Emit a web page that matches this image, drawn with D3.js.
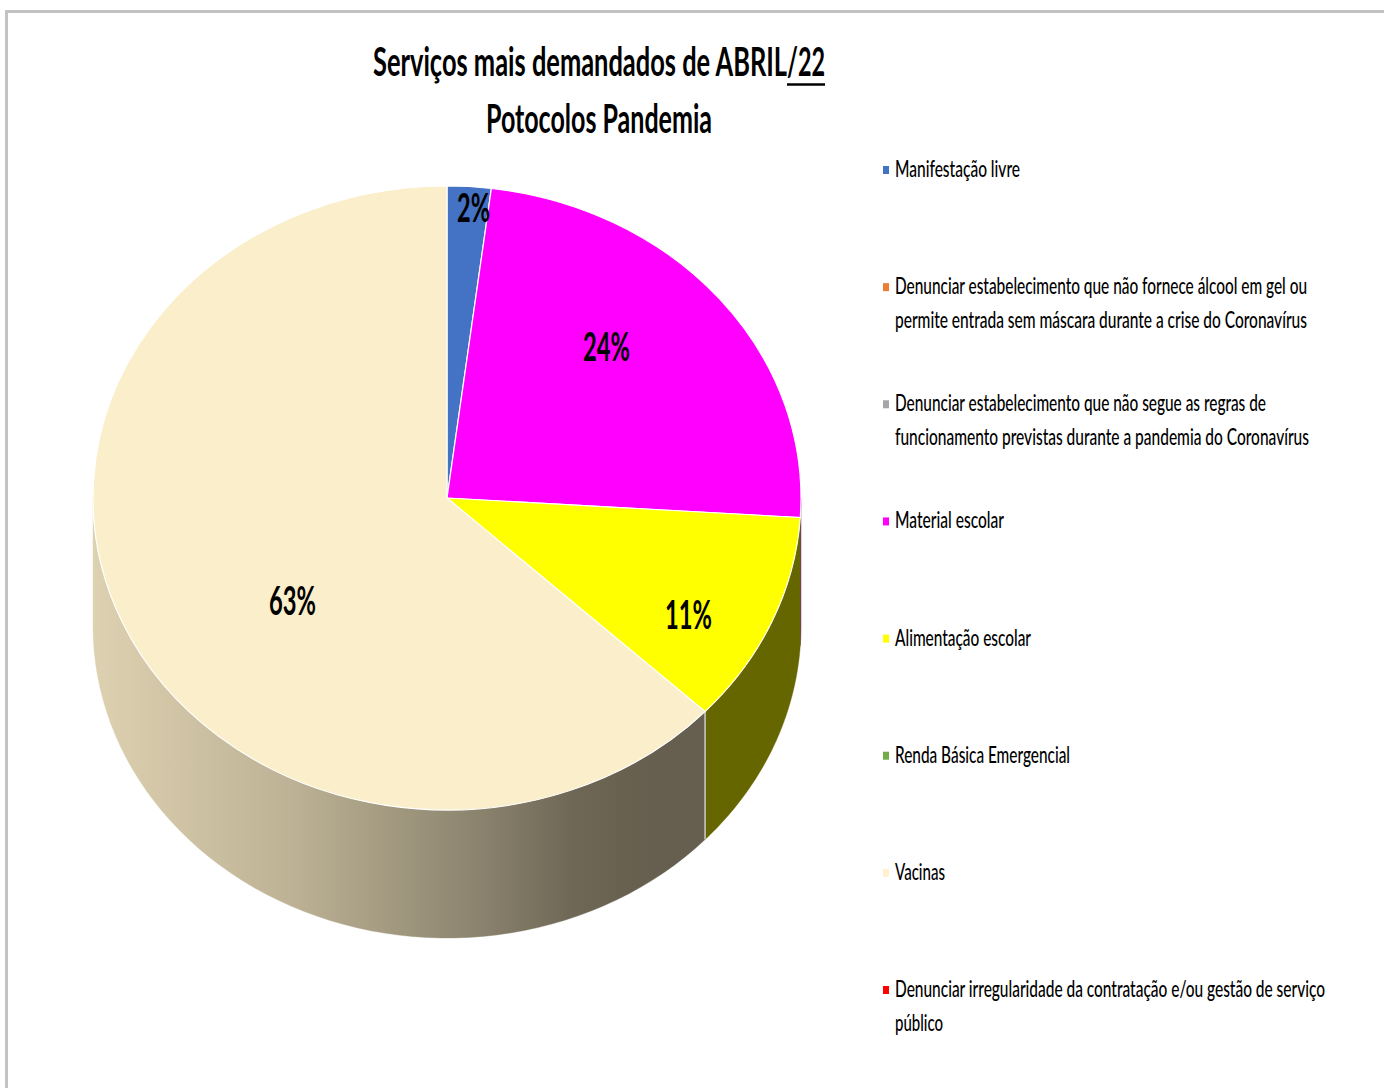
<!DOCTYPE html>
<html lang="pt">
<head>
<meta charset="utf-8">
<title>Serviços mais demandados de ABRIL/22</title>
<script src="https://cdn.jsdelivr.net/npm/d3@7/dist/d3.min.js"></script>
<style>
  html, body { margin: 0; padding: 0; background: #fff; }
  svg { display: block; }
  text { font-family: Lato, "Open Sans", sans-serif; fill: #000; }
</style>
</head>
<body>
<div id="chart"></div>
<script>
// Service categories, in legend order
const categories = [
  "Manifestação livre",
  "Denunciar estabelecimento que não fornece álcool em gel ou permite entrada sem máscara durante a crise do Coronavírus",
  "Denunciar estabelecimento que não segue as regras de funcionamento previstas durante a pandemia do Coronavírus",
  "Material escolar",
  "Alimentação escolar",
  "Renda Básica Emergencial",
  "Vacinas",
  "Denunciar irregularidade da contratação e/ou gestão de serviço público"
];
// Share of protocols per category, in percent
const shares = [2, 0, 0, 24, 11, 0, 63, 0];
const sliceColors = ["#4472C4", "#ED7D31", "#A5A5A5", "#FF00FF", "#FFFF00", "#70AD47", "#FAEECB", "#FF0000"];
const legendColors = ["#4472C4", "#ED7D31", "#A5A5A5", "#FF00FF", "#FFFF00", "#70AD47", "#FFF2CC", "#FF0000"];
const wallColors = ["#294477", "#8E4B1D", "#636363", "#660066", "#666600", "#436829", "url(#wallShade)", "#990000"];
const titleLines = ["Serviços mais demandados de  ABRIL", "/22", "Potocolos Pandemia"];
// Wrapped legend lines with the width each one occupies
const legendLines = [
  [["Manifestação livre", 125]],
  [["Denunciar estabelecimento que não fornece álcool em gel ou", 412], ["permite entrada sem máscara durante a crise do Coronavírus", 412]],
  [["Denunciar estabelecimento que não segue as regras de", 371], ["funcionamento previstas durante a pandemia do Coronavírus", 414]],
  [["Material escolar", 109]],
  [["Alimentação escolar", 136]],
  [["Renda Básica Emergencial", 175]],
  [["Vacinas", 50]],
  [["Denunciar irregularidade da contratação e/ou gestão de serviço", 430], ["público", 48]]
];
const labelWidth = { 1: 33, 2: 47 };

const width = 1384, height = 1088;
const cx = 447, cy = 498, rx = 354, ry = 312, depth = 128;

const svg = d3.select("#chart").append("svg").attr("width", width).attr("height", height);

// Frame of the chart area, open towards the right and bottom of the page
svg.append("path")
  .attr("d", d3.line()([[6.5, height], [6.5, 11.5], [width, 11.5]]))
  .attr("fill", "none").attr("stroke", "#C3C3C3").attr("stroke-width", 3);

// Horizontal shading of the large slice's side wall
const shade = svg.append("defs").append("linearGradient")
  .attr("id", "wallShade").attr("gradientUnits", "userSpaceOnUse")
  .attr("x1", cx - rx).attr("x2", cx + rx).attr("y1", 0).attr("y2", 0);
[[0, "#DDD1B1"], [0.1, "#D2C6A7"], [0.28, "#BDB295"], [0.4, "#A69D83"], [0.55, "#8A826D"], [0.68, "#6E6755"], [0.78, "#665F4F"], [1, "#665F4F"]]
  .forEach(([o, c]) => shade.append("stop").attr("offset", o).attr("stop-color", c));

const pie = d3.pie().sort(null).value(d => d).startAngle(0).endAngle(2 * Math.PI);
const arcs = pie(shares);

// Angles measured clockwise from the top; project them on the tilted disc
const rimPoint = (a, dy) => [cx + rx * Math.sin(a), cy - ry * Math.cos(a) + dy];
const sweep = (a0, a1) => d3.range(0, 61).map(i => a0 + (a1 - a0) * i / 60);
const rimLine = d3.line();

function wallPath(a0, a1) {
  const s0 = Math.max(a0, Math.PI / 2), s1 = Math.min(a1, 3 * Math.PI / 2);
  if (s1 <= s0) return null;
  const top = sweep(s0, s1).map(a => rimPoint(a, 0));
  const bottom = sweep(s1, s0).map(a => rimPoint(a, depth));
  return rimLine(top.concat(bottom)) + "Z";
}

// Side walls of the slices facing the viewer
svg.append("g").selectAll("path")
  .data(arcs.filter(d => d.value > 0 && wallPath(d.startAngle, d.endAngle)))
  .join("path")
  .attr("d", d => wallPath(d.startAngle, d.endAngle))
  .attr("fill", d => wallColors[d.index])
  .attr("stroke", d => wallColors[d.index])
  .attr("stroke-width", 0.4);

// Thin light edge between adjoining walls
const seams = arcs.filter(d => d.value > 0 && d.endAngle > Math.PI / 2 && d.endAngle < 3 * Math.PI / 2);
svg.append("g").selectAll("line")
  .data(seams.slice(0, -1).concat(seams.filter(d => d.index === 4)).filter((d, i, all) => all.indexOf(d) === i && d.index === 4))
  .join("line")
  .attr("x1", d => rimPoint(d.endAngle, 0)[0]).attr("x2", d => rimPoint(d.endAngle, 0)[0])
  .attr("y1", d => rimPoint(d.endAngle, 0)[1]).attr("y2", d => rimPoint(d.endAngle, depth)[1])
  .attr("stroke", "#D2D2D2").attr("stroke-width", 1.4);

// Top face: a circular arc flattened into the disc's ellipse
const arc = d3.arc().innerRadius(0).outerRadius(rx);
svg.append("g")
  .attr("transform", `translate(${cx},${cy}) scale(1,${ry / rx})`)
  .selectAll("path")
  .data(arcs.filter(d => d.value > 0))
  .join("path")
  .attr("d", arc)
  .attr("fill", d => sliceColors[d.index])
  .attr("stroke", "#fff")
  .attr("stroke-width", 1.2);

// Value labels
const labelSpots = { 0: [473.5, 222], 3: [606.5, 361], 4: [688.5, 629], 6: [292.5, 615] };
svg.append("g").selectAll("text")
  .data(arcs.filter(d => d.value > 0))
  .join("text")
  .attr("x", d => labelSpots[d.index][0])
  .attr("y", d => labelSpots[d.index][1])
  .attr("text-anchor", "middle")
  .attr("font-size", 41)
  .attr("font-weight", 700)
  .attr("textLength", d => String(d.value).length === 1 ? labelWidth[1] : labelWidth[2])
  .attr("lengthAdjust", "spacingAndGlyphs")
  .text(d => d.value + "%");

// Title
const title = svg.append("g").attr("font-size", 40).attr("font-weight", 700);
title.append("text").attr("x", 373).attr("y", 76).attr("textLength", 414).attr("lengthAdjust", "spacingAndGlyphs").text(titleLines[0]);
title.append("text").attr("x", 787).attr("y", 76).attr("textLength", 38).attr("lengthAdjust", "spacingAndGlyphs").text(titleLines[1]);
title.append("line").attr("x1", 787).attr("x2", 825).attr("y1", 84.5).attr("y2", 84.5).attr("stroke", "#000").attr("stroke-width", 2.5);
title.append("text").attr("x", 486).attr("y", 133).attr("textLength", 226).attr("lengthAdjust", "spacingAndGlyphs").text(titleLines[2]);

// Legend
const rowY = d3.scaleLinear().domain([0, categories.length - 1]).range([170, 990]);
const legend = svg.append("g").selectAll("g")
  .data(categories)
  .join("g")
  .attr("transform", (d, i) => `translate(883,${rowY(i)})`);
legend.append("rect")
  .attr("x", 0).attr("y", -4).attr("width", 6).attr("height", 8)
  .attr("fill", (d, i) => legendColors[i]);
legend.selectAll("text")
  .data((d, i) => legendLines[i])
  .join("text")
  .attr("x", 12)
  .attr("y", (d, j) => 7 + j * 33.5)
  .attr("font-size", 23)
  .attr("font-weight", 500)
  .attr("textLength", d => d[1])
  .attr("lengthAdjust", "spacingAndGlyphs")
  .text(d => d[0]);
</script>
</body>
</html>
